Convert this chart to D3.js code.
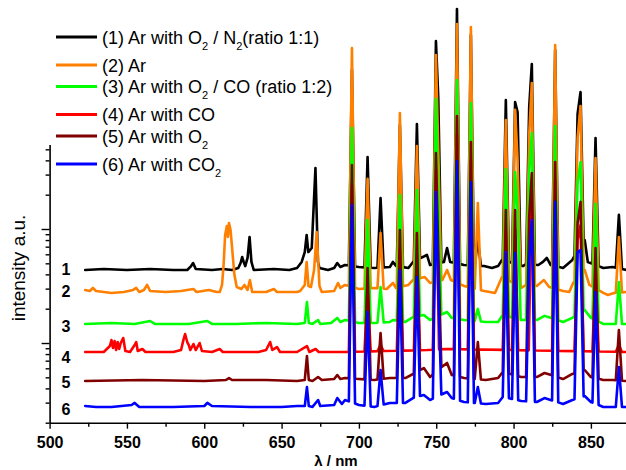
<!DOCTYPE html>
<html><head><meta charset="utf-8">
<script src="https://cdn.jsdelivr.net/npm/d3@7/dist/d3.min.js"></script>
<style>
html,body{margin:0;padding:0;background:#fff;}
svg{display:block;font-family:"Liberation Sans",Arial,Helvetica,sans-serif;}
</style></head>
<body>
<svg id="chart" width="626" height="470"></svg>
<script>
// ---------------- DATA ----------------
const xTicks = [500, 525, 550, 575, 600, 625, 650, 675, 700, 725, 750, 775, 800, 825, 850];
const xTickLabels = ["500", "", "550", "", "600", "", "650", "", "700", "", "750", "", "800", "", "850"];
const yTicks = [0.2,0.3,0.4,0.5,0.6,0.7,0.8,0.9,1,2,3,4,5,6,7,8,9,10,20,30,40,50];
const yMajor = [1, 10];

const seriesNames = ["1", "2", "3", "4", "5", "6"];
const legendParts = [
  [["(1) Ar with O", 0], ["2", 1], [" / N", 0], ["2", 1], ["(ratio 1:1)", 0]],
  [["(2) Ar", 0]],
  [["(3) Ar with O", 0], ["2", 1], [" / CO (ratio 1:2)", 0]],
  [["(4) Ar with CO", 0]],
  [["(5) Ar with O", 0], ["2", 1]],
  [["(6) Ar with CO", 0], ["2", 1]]
];

// wavelengths (nm) of the strong Ar lines, shared by all spectra
const lineLambdas = [695.5, 705.6, 714.0, 726.5, 737.5, 749.8, 751.3, 763.4, 772.4, 776.9,
                     795.0, 801.0, 802.6, 810.1, 811.8, 826.9, 841.4, 843.3, 853.0, 868.1];

// peak heights (intensity a.u.) of each spectrum at those lines
const tops1 = [248, 42.8, 18.7, 81.7, 83.4, 446, 144, 851, 503, 8.0, 135, 130, 106, 117, 280, 372, 102, 159, 62.9, 13.3];
const tops2 = [387, 27.5, 9.22, 104, 53.5, 336, 49.3, 629, 592, 16.9, 90.4, 111, 40.3, 66.8, 191, 411, 62.9, 120, 42.0, 8.51];
const tops3 = [76.9, 12.0, 3.10, 19.9, 22.0, 138, 17.9, 203, 127, 1.99, 33.6, 31.6, 14.7, 31.0, 69.5, 80.1, 25.8, 38.7, 16.6, 3.43];
const tops4 = [24.3, 2.92, 0.96, 6.54, 5.92, 32.9, null, 66.8, 40.3, 0.868, 9.8, 9.8, null, null, 22.0, 26.9, 8.01, 10.8, 4.83, 0.96];
const tops5 = [36.4, 4.55, 1.22, 9.8, 9.22, 46.4, 6.54, 98.0, 58.0, 1.02, 14.7, 14.7, null, 12.7, 31.0, 38.7, 11.3, 17.3, 6.81, 1.30];
const tops6 = [16.2, 1.87, 0.58, 4.37, 3.79, 21.1, 2.92, 39.5, 25.8, 0.411, 6.28, 6.16, null, 5.35, 12.0, 17.3, 6.28, 6.54, 2.80, 0.616];

// background / weak features of each spectrum: [wavelength nm, intensity a.u.]
const bg1 = [[523,4.37],[535,4.46],[550,4.37],[565,4.46],[580,4.37],[589,4.37],[591.5,4.73],[592.8,5.03],[594.5,4.46],
  [605,4.37],[612,4.46],[618,4.37],[622,4.55],[623.5,5.03],[624.5,5.68],[625.5,5.14],[626.5,4.73],[628,5.57],[629.3,8.51],
  [630.5,5.14],[632,4.37],[645,4.46],[655,4.37],[660,4.55],[663,5.14],[665,6.28],[666.2,8.86],[667.3,6.28],[669.5,6.81],
  [671.9,34.3],[673.5,5.14],[674.5,4.55],[680,4.37],[684,4.55],[686,5.03],[688,4.64],[691,4.83],[700,4.64],[710,4.55],
  [720,4.64],[722,5.14],[724,4.73],[732,4.55],[735,5.14],[744,5.92],[746,4.83],[755,5.14],[757,6.81],[759,5.14],[768,4.83],
  [781,4.73],[786,4.55],[790,4.73],[792.5,5.35],[806,4.73],[808,4.93],[816,4.83],[819,5.14],[821.5,5.57],[824,4.83],
  [832,4.55],[838,5.35],[846,8.01],[848,5.14],[858,4.55],[864,4.64],[873,4.37]];
const bg2 = [[523,2.92],[526,2.86],[528,3.04],[530,2.86],[540,2.75],[548,2.80],[554,2.92],[556,3.04],[558,2.80],[561,2.92],
  [563,3.23],[565,2.86],[575,2.80],[585,2.86],[593,2.98],[595,2.80],[603,2.92],[608,2.80],[610,2.80],[611.5,3.23],[612.5,4.83],
  [613.5,8.86],[614.6,10.6],[615.3,8.51],[616.0,11.3],[617.0,9.8],[618.0,6.81],[619.5,3.95],[621,3.10],[624,2.98],[626,3.23],
  [628,2.92],[629.5,3.57],[631,2.80],[640,2.80],[645,2.98],[647,2.80],[660,2.80],[662,2.86],[665,3.23],[666.2,5.14],
  [667.4,3.16],[669,3.10],[671,4.37],[672.7,9.41],[674.5,3.16],[676,2.80],[684,2.86],[686.5,3.36],[688,3.04],[691,3.23],
  [700,2.98],[710,3.04],[718,2.98],[722,3.36],[724,3.04],[732,3.23],[735,3.57],[742.6,3.79],[746,3.36],[754,3.57],[757,4.37],
  [759.5,3.57],[768,3.16],[781,2.86],[788,2.75],[792.5,3.79],[805,3.04],[808,3.23],[815,3.16],[819.6,3.57],[823,3.10],
  [832,2.86],[836,2.80],[838.5,3.36],[846,4.37],[849,3.23],[858,2.75],[861,2.64],[865,2.75],[873,2.80]];
const bg3 = [[523,1.47],[540,1.50],[555,1.47],[565,1.56],[568,1.47],[590,1.47],[602,1.56],[605,1.47],[620,1.47],[640,1.50],
  [660,1.47],[665,1.50],[666.4,2.29],[667.6,1.50],[670,1.47],[673.6,1.59],[675,1.47],[682,1.50],[686,1.66],[688,1.53],[691,1.59],
  [700,1.50],[710,1.50],[720,1.53],[722,1.59],[730,1.53],[735,1.69],[742,1.76],[746,1.59],[757,1.87],[760,1.66],[768,1.59],
  [782,1.53],[790,1.53],[793,1.76],[805,1.59],[815,1.59],[820,1.73],[832,1.53],[838,1.66],[846,1.95],[850,1.66],[858,1.47],
  [864,1.47],[873,1.47]];
const bg4 = [[523,0.834],[535,0.834],[539,0.941],[540,1.06],[541,0.904],[542,1.04],[543,0.868],[544,1.02],[545,0.886],
  [546,1.00],[547.6,1.106],[549,0.851],[552,0.834],[555,0.96],[556,1.02],[557,0.851],[560,0.886],[562,0.834],[580,0.834],
  [585,0.868],[586.5,1.06],[587.6,1.20],[589,1.02],[590,0.96],[591,0.868],[593,0.98],[594.5,0.868],[597,1.00],[598.5,0.851],
  [605,0.834],[610,0.886],[612,0.834],[635,0.834],[640,0.868],[642.6,1.02],[644,0.868],[647,0.922],[649,0.834],[660,0.834],
  [666.4,0.941],[668,0.834],[672,0.886],[674,0.834],[690,0.834],[744,0.868],[757,0.886],[873,0.834]];
const bg5 = [[523,0.464],[560,0.474],[600,0.464],[614,0.474],[616,0.493],[618,0.474],[640,0.474],[660,0.464],[665,0.474],
  [666.4,0.769],[667.6,0.474],[670,0.464],[673.6,0.503],[676,0.474],[684,0.483],[686,0.524],[688,0.483],[691,0.493],
  [700,0.483],[710,0.474],[720,0.493],[730,0.493],[735,0.535],[742,0.603],[746,0.503],[757,0.668],[760,0.524],[768,0.493],
  [782,0.474],[790,0.493],[793,0.557],[805,0.503],[815,0.503],[820,0.546],[832,0.483],[838,0.535],[846,0.580],[850,0.503],
  [858,0.474],[864,0.474],[873,0.464]];
const bg6 = [[523,0.280],[530,0.275],[540,0.275],[553,0.286],[555,0.298],[558,0.275],[580,0.275],[600,0.280],[602,0.298],
  [605,0.280],[630,0.275],[650,0.275],[660,0.280],[665,0.280],[666.4,0.411],[667.6,0.280],[670,0.275],[673.6,0.316],[675,0.280],
  [684,0.286],[686,0.329],[689,0.292],[691,0.316],[700,0.286],[710,0.275],[720,0.298],[730,0.298],[735,0.329],[742,0.350],
  [746,0.316],[757,0.372],[760,0.329],[768,0.304],[782,0.292],[790,0.298],[793,0.336],[805,0.310],[815,0.304],[820,0.329],
  [832,0.292],[838,0.316],[846,0.343],[850,0.304],[858,0.275],[864,0.275],[873,0.275]];

const backgrounds = [bg1, bg2, bg3, bg4, bg5, bg6];
const tops = [tops1, tops2, tops3, tops4, tops5, tops6];

// ---------------- STYLE / LAYOUT ----------------
const colors = ["#000000", "#ff8000", "#00ff00", "#ff0000", "#800000", "#0000ff"];
const labelDy = [5, 7, 8, 11, 7, 9];
const HW = 2.0;       // half width of line profile (nm)

const svg = d3.select("#chart");
const x = d3.scaleLinear().domain([500, 872.7]).range([49.6, 626]);
const y = d3.scaleLog().domain([0.2, 55]).range([422.7, 144.6]);

const bis = d3.bisector(d => d[0]).left;
function bgAt(bg, l) {
  const i = bis(bg, l);
  if (i <= 0) return bg[0][1];
  if (i >= bg.length) return bg[bg.length - 1][1];
  const a = bg[i - 1], b = bg[i];
  const t = (l - a[0]) / (b[0] - a[0]);
  return a[1] + (b[1] - a[1]) * t;
}
function buildSeries(bg, tp) {
  const peaks = lineLambdas.map((l, i) => ({ l, v: tp[i] })).filter(p => p.v != null);
  const pts = bg.filter(([l]) => !peaks.some(p => Math.abs(p.l - l) < HW + 0.2)).map(d => [d[0], d[1]]);
  peaks.forEach(p => {
    pts.push([p.l, p.v]);
    const leftNb = peaks.some(q => q !== p && q.l < p.l && p.l - q.l < 2.5);
    const rightNb = peaks.some(q => q !== p && q.l > p.l && q.l - p.l < 2.5);
    if (!leftNb) pts.push([p.l - HW, bgAt(bg, p.l - HW)]);
    if (!rightNb) pts.push([p.l + HW, bgAt(bg, p.l + HW)]);
  });
  pts.sort((a, b) => a[0] - b[0]);
  return pts;
}

// axes
const xAxis = d3.axisBottom(x).tickValues(xTicks).tickSizeOuter(0)
  .tickFormat((d, i) => xTickLabels[i]);
const gx = svg.append("g").attr("transform", `translate(0,${y(0.2)})`).call(xAxis);
gx.select(".domain").attr("stroke", "#000").attr("stroke-width", 1.6);
gx.selectAll(".tick line").attr("stroke", "#000").attr("stroke-width", 1.4)
  .attr("y2", (d, i) => xTickLabels[i] ? 6 : 4);
gx.selectAll(".tick text").attr("y", 14).attr("fill", "#000")
  .attr("font-size", 16).attr("font-weight", "bold")
  .attr("font-family", "'Liberation Sans',Arial,sans-serif");

const yAxis = d3.axisLeft(y).tickValues(yTicks).tickSizeOuter(0).tickFormat("");
const gy = svg.append("g").attr("transform", `translate(${x(500)},0)`).call(yAxis);
gy.select(".domain").attr("stroke", "#000").attr("stroke-width", 1.6);
gy.selectAll(".tick line").attr("stroke", "#000").attr("stroke-width", 1.4)
  .attr("x2", d => yMajor.includes(d) ? -8 : -4);

svg.append("text").attr("x", 336).attr("y", 466.3).attr("text-anchor", "middle")
  .attr("font-size", 15).attr("font-weight", "bold").text("λ / nm");
svg.append("text").attr("transform", "translate(25,268) rotate(-90)")
  .attr("text-anchor", "middle").attr("font-size", 19).text("intensity a.u.");

// spectra
const line = d3.line().x(d => x(d[0])).y(d => y(d[1]));
backgrounds.forEach((bg, i) => {
  const pts = buildSeries(bg, tops[i]);
  svg.append("path").datum(pts).attr("d", line)
    .attr("fill", "none").attr("stroke", colors[i]).attr("stroke-width", 2.6)
    .attr("stroke-linejoin", "round").attr("stroke-linecap", "round");
  svg.append("text").attr("x", 66).attr("y", y(bg[0][1]) + labelDy[i])
    .attr("text-anchor", "middle").attr("font-size", 16).attr("font-weight", "bold")
    .text(seriesNames[i]);
});

// legend
let ly = 37;
legendParts.forEach((parts, i) => {
  svg.append("line").attr("x1", 56).attr("x2", 97).attr("y1", ly).attr("y2", ly)
    .attr("stroke", colors[i]).attr("stroke-width", 3);
  const t = svg.append("text").attr("x", 102).attr("y", ly + 6.5).attr("font-size", 18);
  let prevSub = false;
  parts.forEach(([s, sub]) => {
    const ts = t.append("tspan").text(s);
    if (sub) { ts.attr("font-size", 11).attr("dy", 6); }
    else if (prevSub) { ts.attr("dy", -6); }
    prevSub = !!sub;
  });
  const hasSub = parts.some(p => p[1]);
  ly += hasSub ? 28 : 21.5;
});
</script>
</body></html>
